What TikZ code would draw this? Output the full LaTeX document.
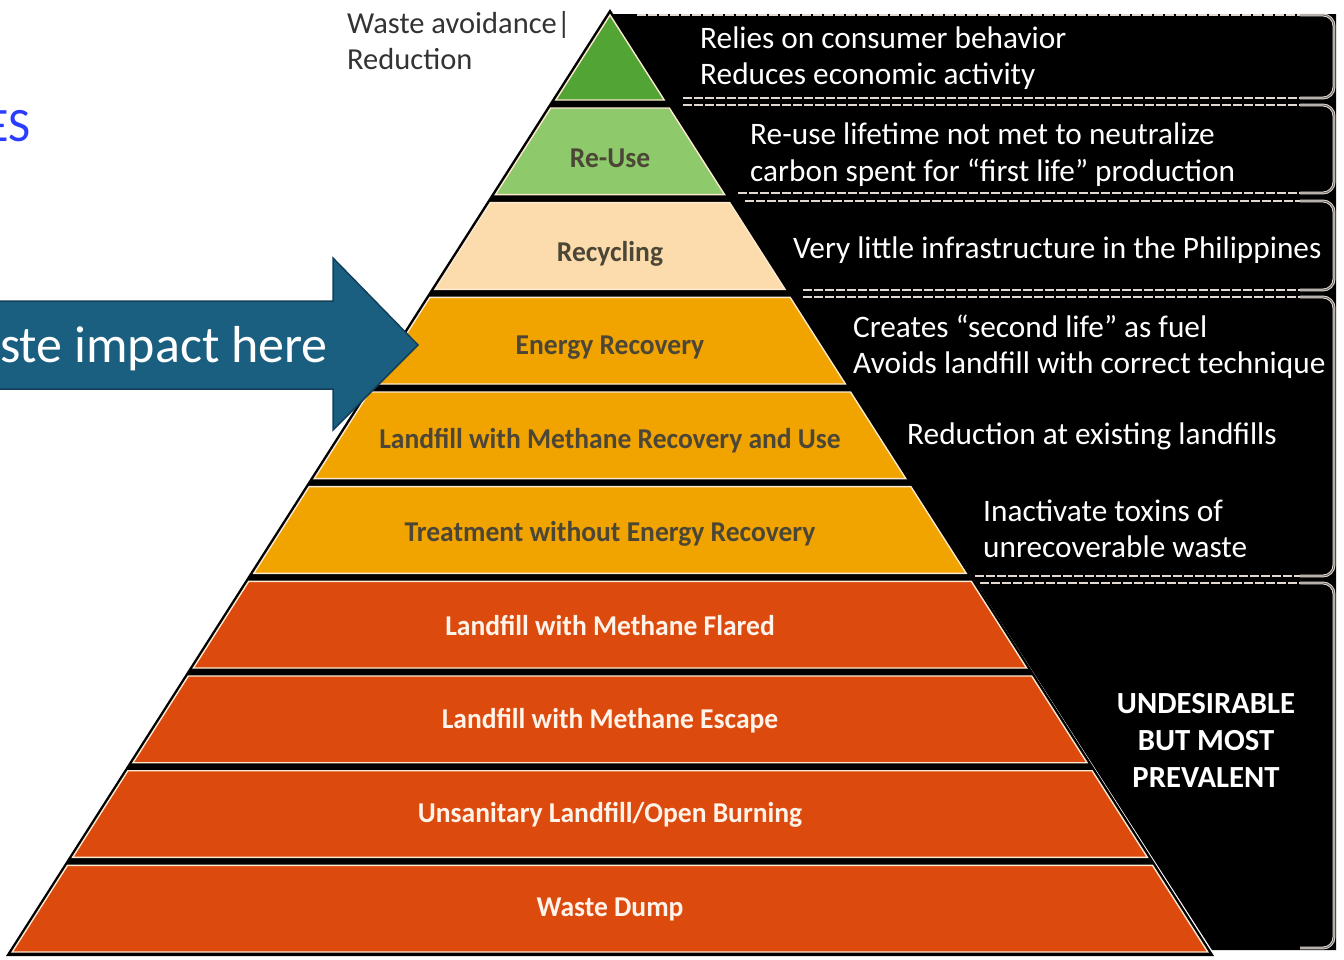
\documentclass[tikz,border=0pt]{standalone}
\usepackage{fontspec}
\setmainfont{Carlito}
\newfontfamily\labfont[FakeStretch=0.96]{Carlito}
\definecolor{grA}{HTML}{52A535}
\definecolor{grB}{HTML}{8EC96B}
\definecolor{peach}{HTML}{FCDCAC}
\definecolor{orng}{HTML}{F1A300}
\definecolor{redo}{HTML}{DC4A0E}
\definecolor{txD}{HTML}{4B4636}
\definecolor{txW}{HTML}{FFF3EA}
\definecolor{edge}{HTML}{FDE9CF}
\definecolor{arrblue}{HTML}{1A5F80}
\definecolor{arrdark}{HTML}{12405A}
\definecolor{linkblue}{HTML}{2A3CFF}
\definecolor{brk}{HTML}{E2DAD2}
\begin{document}
\begin{tikzpicture}[x=1pt,y=-1pt,
  lab/.style={inner sep=0pt, anchor=base, font=\labfont\bfseries\fontsize{28.7}{34}\selectfont},
  rtxt/.style={inner sep=0pt, anchor=base west, text=white, font=\fontsize{31.3}{36}\selectfont},
  utxt/.style={inner sep=0pt, anchor=base, text=white, font=\bfseries\fontsize{30.7}{36}\selectfont},
  dsh/.style={draw=brk, line width=1.6pt, dash pattern=on 9pt off 2pt},
  brace/.style={draw=brk, line width=1pt, double=black!60, double distance=0.9pt, rounded corners=11pt},
  layer/.style={draw=edge, line width=1.4pt}]
\useasboundingbox (0,0) rectangle (1344,959);
\clip (0,0) rectangle (1344,959);
% black panel and pyramid backing
\fill[black] (610,14) -- (1336,14) -- (1336,950) -- (1212,950) -- cycle;
\fill[black] (610,9) -- (1214,956) -- (6,956) -- cycle;
% brackets
\foreach \t/\b/\xt/\xb in {15/98/637/683, 105/193/683/738, 201/290/745/803, 297/576/803/975, 583/948/980/1300}{
  \draw[dsh] (\xt,\t) -- (1310,\t);
  \draw[dsh] (\xb,\b) -- (1310,\b);
  \draw[brace] (1300,\t) -- (1334,\t) -- (1334,\b) -- (1300,\b);
}
% layers
\foreach \i/\fc/\tc/\txt in {0/grA/txD/{},1/grB/txD/Re-Use,2/peach/txD/Recycling,3/orng/txD/Energy Recovery,4/orng/txD/Landfill with Methane Recovery and Use,5/orng/txD/Treatment without Energy Recovery,6/redo/txW/Landfill with Methane Flared,7/redo/txW/Landfill with Methane Escape,8/redo/txW/{Unsanitary Landfill/Open Burning},9/redo/txW/Waste Dump}{
  \pgfmathsetmacro\yb{100+94.67*\i}
  \pgfmathsetmacro\yt{\i==0 ? 15 : \yb-86.67}
  \pgfmathsetmacro\wt{0.638*(\yt-15)}
  \pgfmathsetmacro\wb{0.638*(\yb-15)}
  \pgfmathsetmacro\yl{(\yt+\yb)/2+8.2-1.1*\i+9}
  \fill[\fc, layer] ({610-\wt},\yt) -- ({610+\wt},\yt) -- ({610+\wb},\yb) -- ({610-\wb},\yb) -- cycle;
  \node[lab, text=\tc] (L\i) at (610,\yl) {\txt};
}
% right texts
\node[rtxt] (R1a) at (700,48) {Relies on consumer behavior};
\node[rtxt] (R1b) at (700,84) {Reduces economic activity};
\node[rtxt] (R2a) at (750,144) {Re-use lifetime not met to neutralize};
\node[rtxt] (R2b) at (750,181) {carbon spent for “first life” production};
\node[rtxt] (R3) at (793,258) {Very little infrastructure in the Philippines};
\node[rtxt] (R4a) at (853,337) {Creates “second life” as fuel};
\node[rtxt] (R4b) at (853,373) {Avoids landfill with correct technique};
\node[rtxt] (R5) at (907,444) {Reduction at existing landfills};
\node[rtxt] (R6a) at (983,521) {Inactivate toxins of};
\node[rtxt] (R6b) at (983,557) {unrecoverable waste};
\node[utxt] (U1) at (1206,713) {UNDESIRABLE};
\node[utxt] (U2) at (1206,750) {BUT MOST};
\node[utxt] (U3) at (1206,787) {PREVALENT};
% top-left label
\node[inner sep=0pt, anchor=base west, text=black!80, font=\fontsize{30.5}{36}\selectfont] (W1) at (347,33) {Waste avoidance|};
\node[inner sep=0pt, anchor=base west, text=black!80, font=\fontsize{30.5}{36}\selectfont] (W2) at (347,69) {Reduction};
% ES
\node[inner sep=0pt, anchor=base east, text=linkblue, font=\fontsize{48}{56}\selectfont] (ES) at (31,141) {ES};
% arrow
\filldraw[fill=arrblue, draw=arrdark, line width=1.5pt] (-20,301) -- (333,301) -- (333,258) -- (418,345) -- (333,430) -- (333,389) -- (-20,389) -- cycle;
\node[inner sep=0pt, anchor=base east, text=white, font=\fontsize{52}{60}\selectfont] (AT) at (328,362) {aste impact here};
\end{tikzpicture}
\end{document}
